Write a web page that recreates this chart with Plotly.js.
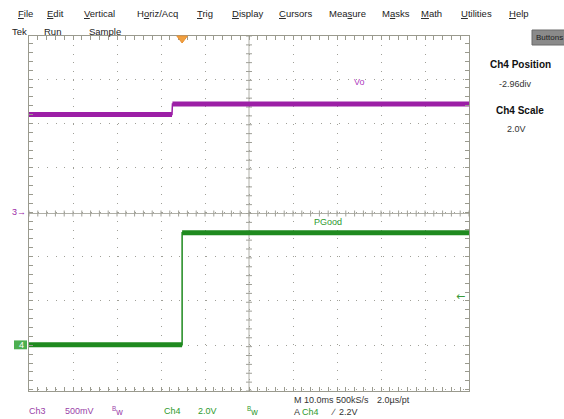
<!DOCTYPE html>
<html><head><meta charset="utf-8">
<script src="https://cdn.plot.ly/plotly-3.0.1.min.js"></script>
<style>html,body{margin:0;padding:0;background:#fff;overflow:hidden}</style>
</head><body><div id="chart" style="width:564px;height:419px"></div>
<script>
// ---- Data (time in ms, voltages in V) ----
const voTime  = [-50, -17.5, -17.4, 50];
const voVolts = [1.10, 1.10, 1.22, 1.22];
const pgTime  = [-50, -15.2, -15.2, 50];
const pgVolts = [0, 0, 5.05, 5.05];
const ch3Scale = 0.5, ch3Pos = 0.03;   // V/div, div
const ch4Scale = 2.0, ch4Pos = -2.96;  // V/div, div
const timeScale = 10;                  // ms/div
const trigTime = -15.2, trigLevel = 2.2;
const menuItems = ['<u>F</u>ile','<u>E</u>dit','<u>V</u>ertical','H<u>o</u>riz/Acq','<u>T</u>rig','<u>D</u>isplay','<u>C</u>ursors','Mea<u>s</u>ure','M<u>a</u>sks','<u>M</u>ath','<u>U</u>tilities','<u>H</u>elp'];
const menuX = [16, 45, 82, 135, 195, 230, 277, 327, 380, 419, 459, 507];

// ---- layout helpers (pixel -> paper) ----
const L = 29, R = 469, T = 36, B = 391;
const W = 564, H = 419;
const px = p => (p - L) / (R - L);
const py = p => (B - p) / (B - T);

const purple = '#9c1fa6', green = '#1f8a1f';
const ch3Range = [(-4 - ch3Pos) * ch3Scale, (4 - ch3Pos) * ch3Scale];
const ch4Range = [(-4 - ch4Pos) * ch4Scale, (4 - ch4Pos) * ch4Scale];

function withGap(t, v) { // split the vertical edge off so the flat levels can be drawn thick
  const xs = [], ys = [];
  for (let i = 0; i < t.length; i++) {
    if (i > 0 && t[i] - t[i-1] < 0.5 && v[i] !== v[i-1]) { xs.push(null); ys.push(null); }
    xs.push(t[i]); ys.push(v[i]);
  }
  return [xs, ys];
}
const [voGx, voGy] = withGap(voTime, voVolts);
const [pgGx, pgGy] = withGap(pgTime, pgVolts);

const traces = [
  {x: voTime, y: voVolts, yaxis: 'y', mode: 'lines', line: {color: purple, width: 1.5}, hoverinfo: 'skip'},
  {x: voGx, y: voGy, yaxis: 'y', mode: 'lines', connectgaps: false, line: {color: purple, width: 5}, hoverinfo: 'skip'},
  {x: pgTime, y: pgVolts, yaxis: 'y2', mode: 'lines', line: {color: green, width: 1.5}, hoverinfo: 'skip'},
  {x: pgGx, y: pgGy, yaxis: 'y2', mode: 'lines', connectgaps: false, line: {color: green, width: 5}, hoverinfo: 'skip'}
];

const gridCol = '#a0a098', frameCol = '#9a9a8e';
const shapes = [];
// center cross lines
shapes.push({type: 'line', xref: 'x', yref: 'paper', x0: 0, x1: 0, y0: 0, y1: 1, line: {color: '#b0b0a8', width: 1}, layer: 'below'});
shapes.push({type: 'line', xref: 'paper', yref: 'paper', x0: 0, x1: 1, y0: 0.5, y1: 0.5, line: {color: '#b0b0a8', width: 1}, layer: 'below'});
// center tick marks
for (let i = -25; i <= 25; i++) {
  const t = i * timeScale / 5;
  shapes.push({type: 'line', xref: 'x', yref: 'paper', x0: t, x1: t, y0: 0.5 - 3/355, y1: 0.5 + 3/355, line: {color: '#a0a098', width: 1}, layer: 'below'});
}
for (let j = -20; j <= 20; j++) {
  const f = 0.5 + j / 40;
  shapes.push({type: 'line', xref: 'paper', yref: 'paper', x0: 0.5 - 3/440, x1: 0.5 + 3/440, y0: f, y1: f, line: {color: '#a0a098', width: 1}, layer: 'below'});
}
// trigger position marker (top)
shapes.push({type: 'path', xref: 'x', yref: 'paper', path: `M ${trigTime-1.2},1 L ${trigTime+1.2},1 L ${trigTime},${1-7/355} Z`, fillcolor: '#f0a040', line: {color: '#e89030', width: 1}});
// Buttons pill
shapes.push({type: 'rect', xref: 'paper', yref: 'paper', x0: px(532), x1: px(566), y0: py(45), y1: py(30), fillcolor: '#8a8a8a', line: {color: '#6a6a6a', width: 1}});
// ch4 marker box
shapes.push({type: 'rect', xref: 'paper', yref: 'y2', x0: px(14), x1: px(27), y0: -0.2, y1: 0.2, fillcolor: '#4caf50', line: {width: 0}});

const font = 'Liberation Sans, Arial, sans-serif';
const ann = [];
menuItems.forEach((m, i) => ann.push({xref: 'paper', yref: 'paper', x: px(menuX[i]), y: py(13), text: m, showarrow: false, xanchor: 'left', yanchor: 'middle', font: {family: font, size: 9.5, color: '#222'}}));
[['Tek', 10], ['Run', 42], ['Sample', 87]].forEach(([t, x]) => ann.push({xref: 'paper', yref: 'paper', x: px(x), y: py(31), text: t, showarrow: false, xanchor: 'left', yanchor: 'middle', font: {family: font, size: 9.5, color: '#222'}}));
ann.push({xref: 'paper', yref: 'paper', x: px(534), y: py(37.5), text: 'Buttons', showarrow: false, xanchor: 'left', yanchor: 'middle', font: {family: font, size: 8, color: '#222'}});
ann.push({xref: 'paper', yref: 'paper', x: px(520), y: py(64), text: '<b>Ch4 Position</b>', showarrow: false, xanchor: 'center', yanchor: 'middle', font: {family: font, size: 10, color: '#111'}});
ann.push({xref: 'paper', yref: 'paper', x: px(515), y: py(84), text: ch4Pos.toFixed(2) + 'div', showarrow: false, xanchor: 'center', yanchor: 'middle', font: {family: font, size: 9, color: '#333'}});
ann.push({xref: 'paper', yref: 'paper', x: px(520), y: py(110), text: '<b>Ch4 Scale</b>', showarrow: false, xanchor: 'center', yanchor: 'middle', font: {family: font, size: 10, color: '#111'}});
ann.push({xref: 'paper', yref: 'paper', x: px(516), y: py(129), text: ch4Scale.toFixed(1) + 'V', showarrow: false, xanchor: 'center', yanchor: 'middle', font: {family: font, size: 9, color: '#333'}});
// trace labels
ann.push({xref: 'x', yref: 'y', x: 23.4, y: 1.47, text: 'Vo', showarrow: false, xanchor: 'left', yanchor: 'middle', font: {family: font, size: 9, color: '#b040c0'}});
ann.push({xref: 'x', yref: 'y2', x: 14.3, y: 5.55, text: 'PGood', showarrow: false, xanchor: 'left', yanchor: 'middle', font: {family: font, size: 9, color: '#2e9a2e'}});
// channel ground markers
ann.push({xref: 'paper', yref: 'y', x: px(28), y: 0, text: '3\u2192', showarrow: false, xanchor: 'right', yanchor: 'middle', font: {family: font, size: 9, color: purple}});
ann.push({xref: 'paper', yref: 'y2', x: px(26), y: 0, text: '4', showarrow: false, xanchor: 'right', yanchor: 'middle', font: {family: font, size: 9, color: '#ffffff'}});
// trigger level arrow
ann.push({xref: 'paper', yref: 'y2', x: px(467), y: trigLevel, text: '\u2190', showarrow: false, xanchor: 'right', yanchor: 'middle', font: {family: 'DejaVu Sans, sans-serif', size: 11, color: '#3a9a3a'}});
// bottom status
const bot = [['Ch3', 27, 411, '#9a3fa8'], ['500mV', 63, 411, '#9a3fa8'], ['<sup>B</sup>w', 110, 411, '#9a3fa8'], ['Ch4', 162, 411, '#2e9a2e'], ['2.0V', 196, 411, '#2e9a2e'], ['<sup>B</sup>w', 245, 411, '#2e9a2e'],
  ['M 10.0ms 500kS/s', 292, 400, '#333'], ['2.0\u00b5s/pt', 375, 400, '#333'], ['A', 292, 412, '#333'], ['Ch4', 300, 412, '#2e9a2e'], ['\u2215', 329, 412, '#333'], ['2.2V', 337, 412, '#333']];
bot.forEach(([t, x, y, c]) => ann.push({xref: 'paper', yref: 'paper', x: px(x), y: py(y), text: t, showarrow: false, xanchor: 'left', yanchor: 'middle', font: {family: font, size: 9, color: c}}));

const layout = {
  width: W, height: H,
  margin: {l: L, r: W - R, t: T, b: H - B, pad: 0},
  paper_bgcolor: '#ffffff', plot_bgcolor: '#ffffff',
  showlegend: false,
  xaxis: {range: [-5 * timeScale, 5 * timeScale], dtick: timeScale, tick0: 0, showgrid: true, gridcolor: gridCol, griddash: '1px,7.8px', gridwidth: 1,
          zeroline: false, showline: true, linecolor: frameCol, linewidth: 1, mirror: 'ticks', ticks: 'inside', ticklen: 4, tickcolor: frameCol,
          minor: {dtick: timeScale / 5, ticks: 'inside', ticklen: 4, tickcolor: frameCol, showgrid: false},
          showticklabels: false, fixedrange: true},
  yaxis: {range: ch3Range, dtick: ch3Scale, tick0: 0, showgrid: true, gridcolor: gridCol, griddash: '1px,7.85px', gridwidth: 1,
          zeroline: false, showline: true, linecolor: frameCol, linewidth: 1, mirror: 'ticks', ticks: 'inside', ticklen: 4, tickcolor: frameCol,
          minor: {dtick: ch3Scale / 5, ticks: 'inside', ticklen: 4, tickcolor: frameCol, showgrid: false},
          showticklabels: false, fixedrange: true},
  yaxis2: {range: ch4Range, overlaying: 'y', side: 'right', showgrid: false, zeroline: false, showline: false, ticks: '', showticklabels: false, fixedrange: true},
  shapes: shapes,
  annotations: ann
};
Plotly.newPlot('chart', traces, layout, {displayModeBar: false, staticPlot: true});
</script></body></html>
